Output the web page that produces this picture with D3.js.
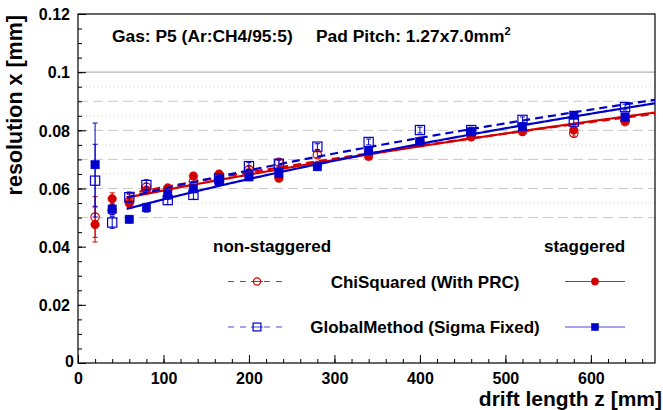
<!DOCTYPE html>
<html>
<head>
<meta charset="utf-8">
<script src="https://cdn.jsdelivr.net/npm/d3@7"></script>
<style>
  body { margin: 0; background: #fff; }
  svg { display: block; font-family: "Liberation Sans", Arial, Helvetica, sans-serif; font-weight: bold; }
</style>
</head>
<body>
<svg id="chart" width="663" height="410"></svg>
<script>
// Drift lengths of the measurement points [mm]
const driftZ = [20, 40, 60, 80, 105, 135, 165, 200, 235, 280, 340, 400, 460, 520, 580, 640];

// Resolution in x [mm] for each method and pad layout
const chiNonStag  = [0.0502, 0.0524, 0.0555, 0.0605, 0.0598, 0.0624, 0.0645, 0.0665, 0.0690, 0.0716, 0.0725, 0.0762, 0.0780, 0.0796, 0.0790, 0.0830];
const chiStag     = [0.0476, 0.0565, 0.0549, 0.0595, 0.0602, 0.0643, 0.0650, 0.0655, 0.0635, 0.0680, 0.0710, 0.0757, 0.0777, 0.0800, 0.0801, 0.0835];
const globNonStag = [0.0627, 0.0483, 0.0570, 0.0612, 0.0560, 0.0578, 0.0635, 0.0677, 0.0685, 0.0744, 0.0760, 0.0801, 0.0801, 0.0836, 0.0830, 0.0880];
const globStag    = [0.0682, 0.0529, 0.0494, 0.0534, 0.0578, 0.0599, 0.0624, 0.0640, 0.0652, 0.0675, 0.0730, 0.0761, 0.0795, 0.0813, 0.0852, 0.0846];

// Statistical errors [mm]
const chiNonStagErr  = [0.0070, 0.0015, 0.0012, 0.0012, 0.0010, 0.0010, 0.0010, 0.0010, 0.0010, 0.0010, 0.0010, 0.0010, 0.0010, 0.0010, 0.0010, 0.0010];
const chiStagErr     = [0.0060, 0.0020, 0.0015, 0.0012, 0.0010, 0.0012, 0.0010, 0.0010, 0.0010, 0.0010, 0.0010, 0.0010, 0.0010, 0.0010, 0.0010, 0.0010];
const globNonStagErr = [0.0125, 0.0020, 0.0018, 0.0018, 0.0015, 0.0015, 0.0012, 0.0012, 0.0012, 0.0010, 0.0010, 0.0010, 0.0010, 0.0010, 0.0010, 0.0010];
const globStagErr    = [0.0143, 0.0018, 0.0012, 0.0015, 0.0015, 0.0012, 0.0012, 0.0012, 0.0010, 0.0010, 0.0010, 0.0010, 0.0010, 0.0010, 0.0010, 0.0010];

// Fit sigma^2 = s0^2 + D^2 * z  (s0 [mm], D^2 [mm])
const fitS0   = [0.05486, 0.05332, 0.05279, 0.04825];   // chiNonStag, chiStag, globNonStag, globStag
const fitD2   = [6.423e-6, 6.771e-6, 8.005e-6, 8.365e-6];
const fitZmin = 57;
const fitZmax = 675;

// Axis ticks
const xMajor = [0, 100, 200, 300, 400, 500, 600];
const xMinor = d3.range(0, 676, 20);
const yMajor = [0, 0.02, 0.04, 0.06, 0.08, 0.1, 0.12];
const yMajorLabels = ["0", "0.02", "0.04", "0.06", "0.08", "0.1", "0.12"];
const yMinor = d3.range(0, 0.1201, 0.005);
const gridDashed = [0.05, 0.06, 0.07, 0.08, 0.09];
const gridDotted = [0.055, 0.065, 0.075, 0.085, 0.095];
const gridSolid  = [0.1];

const RED = "#d40000", BLUE = "#0000cc";

const svg = d3.select("#chart");
const x = d3.scaleLinear().domain([0, 675]).range([78, 655]);
const y = d3.scaleLinear().domain([0, 0.12]).range([363, 14]);

// Horizontal reference lines
const grid = svg.append("g");
grid.selectAll("line.dash").data(gridDashed).join("line")
  .attr("x1", x(0)).attr("x2", x(675)).attr("y1", d => y(d)).attr("y2", d => y(d))
  .attr("stroke", "#c8c8c8").attr("stroke-width", 1).attr("stroke-dasharray", "10,5");
grid.selectAll("line.dot").data(gridDotted).join("line")
  .attr("x1", x(0)).attr("x2", x(675)).attr("y1", d => y(d)).attr("y2", d => y(d))
  .attr("stroke", "#d4d4d4").attr("stroke-width", 1).attr("stroke-dasharray", "1,3");
grid.selectAll("line.solid").data(gridSolid).join("line")
  .attr("x1", x(0)).attr("x2", x(675)).attr("y1", d => y(d)).attr("y2", d => y(d))
  .attr("stroke", "#b4b4b4").attr("stroke-width", 1.2);

// Axes
const yAxis = d3.axisLeft(y).tickValues(yMajor).tickSize(-8).tickPadding(8)
  .tickFormat((d, i) => yMajorLabels[i]);
const gy = svg.append("g").attr("transform", `translate(${x(0)},0)`).call(yAxis);
gy.select(".domain").remove();
gy.selectAll("text").attr("font-size", 16).attr("font-family", null).attr("dy", "0.36em");
gy.selectAll(".tick").filter(d => d === 0).select("text").attr("x", -4).attr("dy", "0.2em");
const gyMinor = svg.append("g").attr("transform", `translate(${x(0)},0)`)
  .call(d3.axisLeft(y).tickValues(yMinor).tickSize(-4).tickFormat(""));
gyMinor.select(".domain").remove();

const xAxis = d3.axisBottom(x).tickValues(xMajor).tickSize(-8).tickPadding(10)
  .tickFormat(d3.format("d"));
const gx = svg.append("g").attr("transform", `translate(0,${y(0)})`).call(xAxis);
gx.select(".domain").remove();
gx.selectAll("text").attr("font-size", 16).attr("font-family", null);
const gxMinor = svg.append("g").attr("transform", `translate(0,${y(0)})`)
  .call(d3.axisBottom(x).tickValues(xMinor).tickSize(-4).tickFormat(""));
gxMinor.select(".domain").remove();
svg.selectAll(".tick line").attr("stroke", "#000").attr("stroke-width", 1);

// Frame
svg.append("rect").attr("x", x(0)).attr("y", y(0.12))
  .attr("width", x(675) - x(0)).attr("height", y(0) - y(0.12))
  .attr("fill", "none").attr("stroke", "#000").attr("stroke-width", 1.2);

// Axis titles
svg.append("text").attr("transform", "translate(22,15) rotate(-90)")
  .attr("text-anchor", "end").attr("font-size", 21.5).text("resolution x [mm]");
svg.append("text").attr("x", 662).attr("y", 405.5)
  .attr("text-anchor", "end").attr("font-size", 21).text("drift length z [mm]");

// Header
svg.append("text").attr("x", 112).attr("y", 42).attr("font-size", 17.4).text("Gas: P5 (Ar:CH4/95:5)");
const pad = svg.append("text").attr("x", 316).attr("y", 42).attr("font-size", 17.4);
pad.append("tspan").text("Pad Pitch: 1.27x7.0mm");
pad.append("tspan").attr("dy", -7).attr("font-size", 11).text("2");

// Fit curves
const clip = svg.append("clipPath").attr("id", "frameClip").append("rect")
  .attr("x", x(0)).attr("y", y(0.12)).attr("width", x(675) - x(0)).attr("height", y(0) - y(0.12));
const fitZ = d3.range(fitZmin, fitZmax + 0.1, 3);
const fitLine = i => d3.line()
  .x(z => x(z))
  .y(z => y(Math.sqrt(fitS0[i] * fitS0[i] + fitD2[i] * z)))(fitZ);

const series = [
  { vals: chiNonStag,  err: chiNonStagErr,  color: RED,  marker: "circle", filled: false, fit: 0, dash: "8,5" },
  { vals: chiStag,     err: chiStagErr,     color: RED,  marker: "circle", filled: true,  fit: 1, dash: null },
  { vals: globNonStag, err: globNonStagErr, color: BLUE, marker: "square", filled: false, fit: 2, dash: "8,5" },
  { vals: globStag,    err: globStagErr,    color: BLUE, marker: "square", filled: true,  fit: 3, dash: null }
];

function drawMarker(g, cx, cy, s, scale) {
  const k = scale || 1;
  if (s.marker === "circle") {
    g.append("circle").attr("cx", cx).attr("cy", cy)
      .attr("r", s.filled ? 4.3 * k : 4.2 * k)
      .attr("fill", s.filled ? s.color : "none")
      .attr("stroke", s.color).attr("stroke-width", s.filled ? 0.5 : 1.2);
  } else {
    const h = (s.filled ? 4.2 : 4.6) * k;
    g.append("rect").attr("x", cx - h).attr("y", cy - h).attr("width", 2 * h).attr("height", 2 * h)
      .attr("fill", s.filled ? s.color : "none")
      .attr("stroke", s.color).attr("stroke-width", s.filled ? 0.5 : 1.2);
  }
}

const plot = svg.append("g").attr("clip-path", "url(#frameClip)");
series.forEach(s => {
  const g = plot.append("g");
  // error bars
  driftZ.forEach((z, i) => {
    const cx = x(z), lo = y(s.vals[i] - s.err[i]), hi = y(s.vals[i] + s.err[i]);
    g.append("line").attr("x1", cx).attr("x2", cx).attr("y1", lo).attr("y2", hi)
      .attr("stroke", s.color).attr("stroke-width", 1);
    [lo, hi].forEach(yy => g.append("line").attr("x1", cx - 2.5).attr("x2", cx + 2.5)
      .attr("y1", yy).attr("y2", yy).attr("stroke", s.color).attr("stroke-width", 1));
  });
  // fit
  g.append("path").attr("d", fitLine(s.fit)).attr("fill", "none")
    .attr("stroke", s.color).attr("stroke-width", 2.2)
    .attr("stroke-dasharray", s.dash);
  // markers
  driftZ.forEach((z, i) => drawMarker(g, x(z), y(s.vals[i]), s));
});

// Legend
const leg = svg.append("g");
leg.append("text").attr("x", 213).attr("y", 252).attr("font-size", 17).text("non-staggered");
leg.append("text").attr("x", 544).attr("y", 252).attr("font-size", 17).text("staggered");
const rows = [
  { label: "ChiSquared (With PRC)",        cy: 281.5, open: series[0], full: series[1], lc: "#e02020" },
  { label: "GlobalMethod (Sigma Fixed)",   cy: 327,   open: series[2], full: series[3], lc: "#4848dd" }
];
rows.forEach(r => {
  leg.append("text").attr("x", 425).attr("y", r.cy).attr("dy", "0.36em")
    .attr("text-anchor", "middle").attr("font-size", 17).text(r.label);
  leg.append("line").attr("x1", 228).attr("x2", 288).attr("y1", r.cy).attr("y2", r.cy)
    .attr("stroke", r.lc).attr("stroke-width", 1).attr("stroke-dasharray", "6,6");
  leg.append("rect").attr("x", 251).attr("y", r.cy - 6).attr("width", 12).attr("height", 12).attr("fill", "#fff");
  leg.append("line").attr("x1", 251).attr("x2", 263).attr("y1", r.cy).attr("y2", r.cy)
    .attr("stroke", r.lc).attr("stroke-width", 1);
  drawMarker(leg, 257, r.cy, r.open, 0.85);
  leg.append("line").attr("x1", 565).attr("x2", 625).attr("y1", r.cy).attr("y2", r.cy)
    .attr("stroke", r.lc).attr("stroke-width", 1);
  drawMarker(leg, 595, r.cy, r.full, 0.85);
});
</script>
</body>
</html>
